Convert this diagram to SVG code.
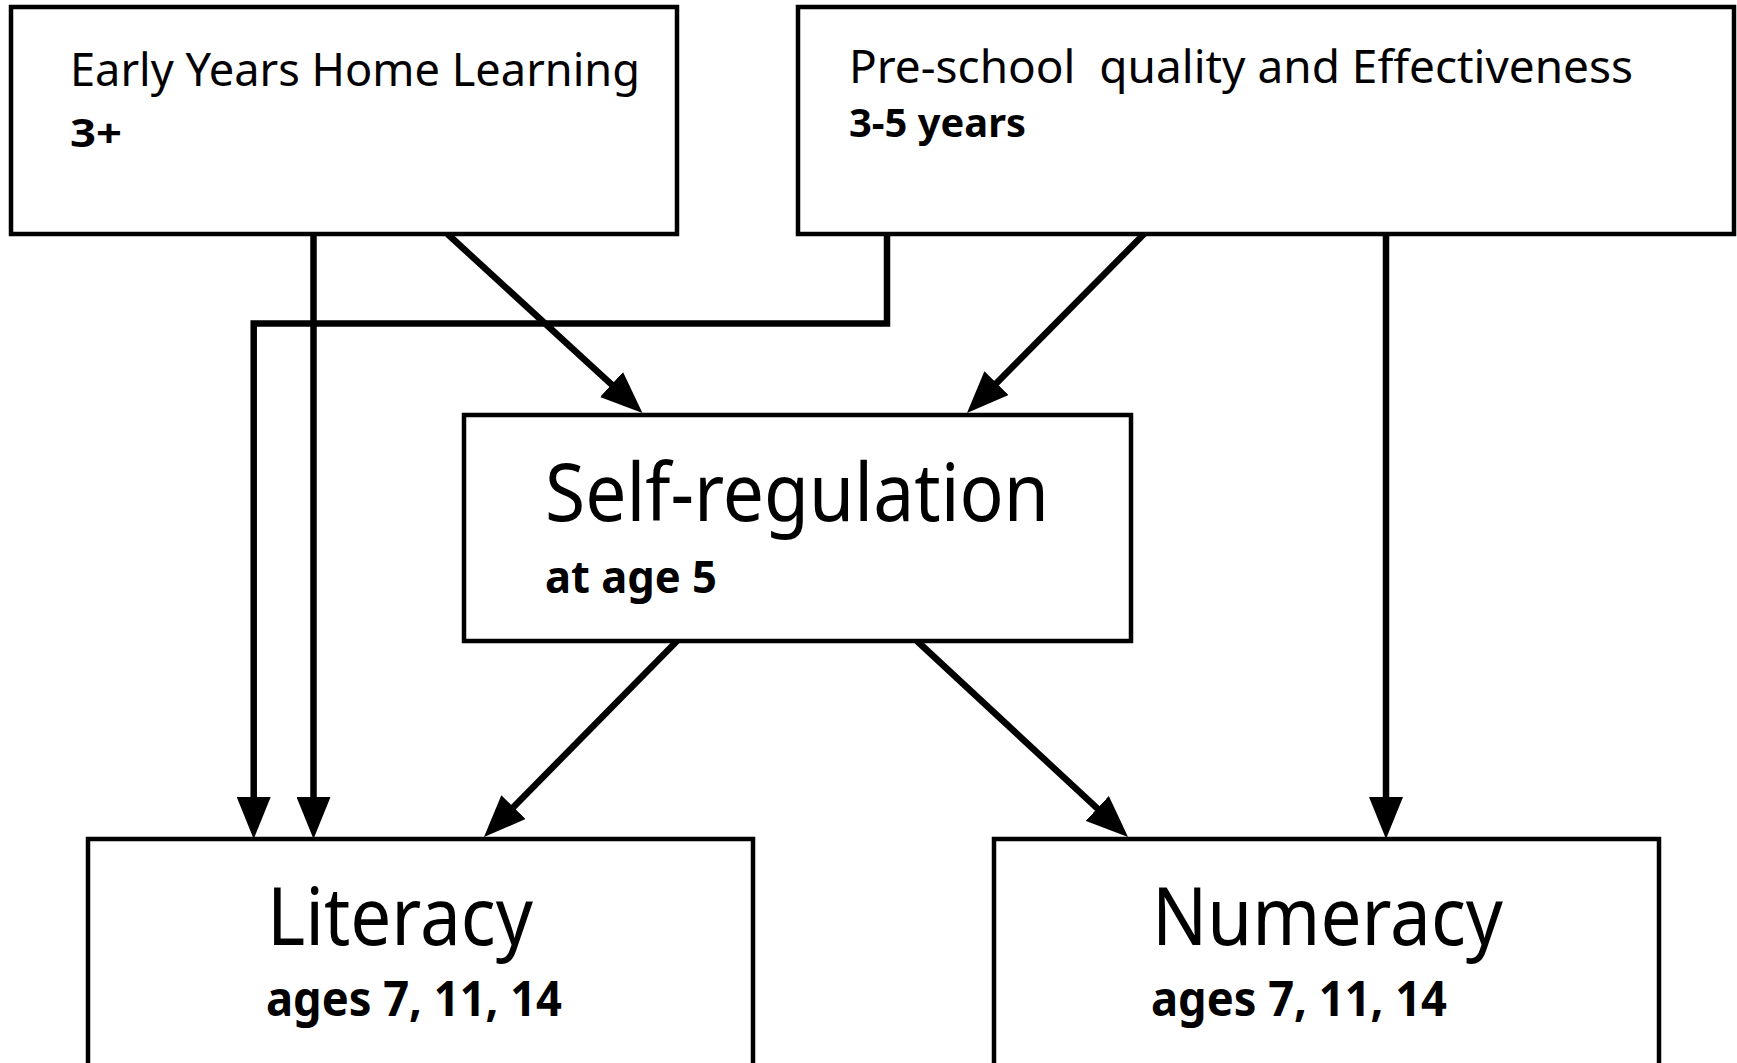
<svg xmlns="http://www.w3.org/2000/svg" width="1737" height="1063" viewBox="0 0 1737 1063">
<style>
.box{fill:#fff;stroke:#000;stroke-width:4.5}
.t{font-family:"Noto Sans","Open Sans","Liberation Sans",sans-serif;fill:#000}
.b{font-weight:bold}
.c{fill:none;stroke:#000;stroke-width:6.5}
</style>
<defs>
<marker id="ah" markerUnits="userSpaceOnUse" viewBox="0 0 42 34" refX="32" refY="17" markerWidth="42" markerHeight="34" orient="auto">
<path d="M0,0 L42,17 L0,34 z" fill="#000"/>
</marker>
</defs>
<rect width="1737" height="1063" fill="#fff"/>
<g id="connectors">
<path class="c" d="M313.5,234 V829" marker-end="url(#ah)"/>
<path class="c" d="M887,234 V323.5 H253.7 V829" marker-end="url(#ah)"/>
<path class="c" d="M447.5,234 L635.1,406.2" marker-end="url(#ah)"/>
<path class="c" d="M1144,234 L974,405.9" marker-end="url(#ah)"/>
<path class="c" d="M1386,234 V829" marker-end="url(#ah)"/>
<path class="c" d="M677,641 L491,829.9" marker-end="url(#ah)"/>
<path class="c" d="M917,641 L1120.7,830.2" marker-end="url(#ah)"/>
</g>
<g id="early-years">
<rect class="box" x="11" y="7" width="666" height="227"/>
<text class="t" x="70" y="86" font-size="46" textLength="570" lengthAdjust="spacingAndGlyphs">Early Years Home Learning</text>
<text class="t b" x="70" y="147" font-size="40" textLength="52" lengthAdjust="spacingAndGlyphs">3+</text>
</g>
<g id="pre-school">
<rect class="box" x="798" y="7" width="936" height="227"/>
<text class="t" x="849" y="83" font-size="46" textLength="784" lengthAdjust="spacingAndGlyphs" xml:space="preserve">Pre-school  quality and Effectiveness</text>
<text class="t b" x="849" y="137" font-size="39" textLength="177" lengthAdjust="spacingAndGlyphs">3-5 years</text>
</g>
<g id="self-regulation">
<rect class="box" x="464" y="415" width="667" height="226"/>
<text class="t" x="545" y="521" font-size="81" textLength="504" lengthAdjust="spacingAndGlyphs">Self-regulation</text>
<text class="t b" x="545" y="593" font-size="45" textLength="172" lengthAdjust="spacingAndGlyphs">at age 5</text>
</g>
<g id="literacy">
<rect class="box" x="88" y="839" width="665" height="240"/>
<text class="t" x="267" y="945" font-size="80" textLength="266" lengthAdjust="spacingAndGlyphs">Literacy</text>
<text class="t b" x="266" y="1016" font-size="48" textLength="296" lengthAdjust="spacingAndGlyphs">ages 7, 11, 14</text>
</g>
<g id="numeracy">
<rect class="box" x="994" y="839" width="665" height="240"/>
<text class="t" x="1152" y="945" font-size="80" textLength="351" lengthAdjust="spacingAndGlyphs">Numeracy</text>
<text class="t b" x="1151" y="1016" font-size="48" textLength="296" lengthAdjust="spacingAndGlyphs">ages 7, 11, 14</text>
</g>
</svg>
